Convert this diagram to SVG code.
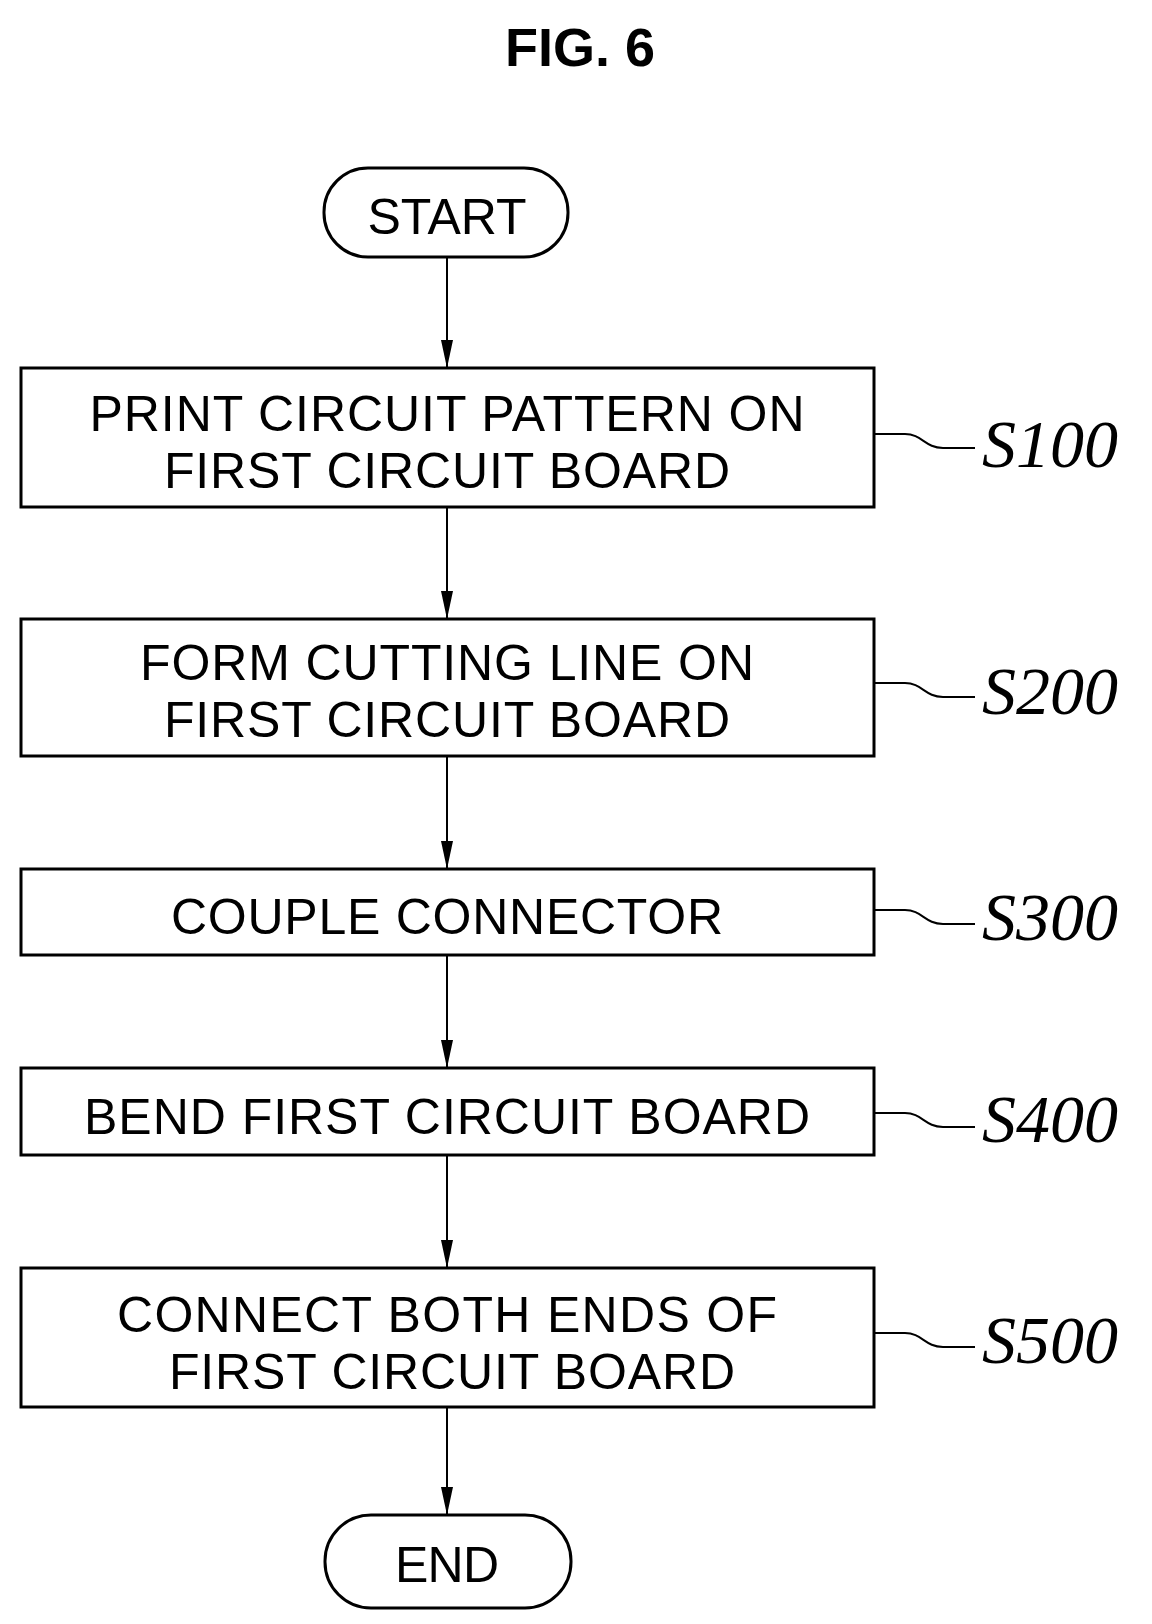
<svg xmlns="http://www.w3.org/2000/svg" width="1152" height="1624" viewBox="0 0 1152 1624">
<style>
.b{fill:#fff;stroke:#000;stroke-width:3}
.t{font-family:"Liberation Sans",Arial,sans-serif;font-size:50px;fill:#000;text-anchor:middle}
.s{font-family:"Liberation Serif","Times New Roman",serif;font-style:italic;font-size:68px;fill:#000}
</style>
<text x="580" y="66" font-family="Liberation Sans,Arial,sans-serif" font-weight="bold" font-size="54" text-anchor="middle">FIG. 6</text>
<g id="connectors" stroke="#000" stroke-width="2" fill="none">
<line x1="447" y1="257" x2="447" y2="367"/>
<line x1="447" y1="507" x2="447" y2="618"/>
<line x1="447" y1="756" x2="447" y2="868"/>
<line x1="447" y1="955" x2="447" y2="1067"/>
<line x1="447" y1="1155" x2="447" y2="1267"/>
<line x1="447" y1="1407" x2="447" y2="1514"/>
<g fill="#000" stroke="none">
<path d="M441,340 L453,340 L447,368 Z"/>
<path d="M441,591 L453,591 L447,619 Z"/>
<path d="M441,841 L453,841 L447,869 Z"/>
<path d="M441,1040 L453,1040 L447,1068 Z"/>
<path d="M441,1240 L453,1240 L447,1268 Z"/>
<path d="M441,1487 L453,1487 L447,1515 Z"/>
</g>
<path d="M874,434 H905 C922,434 925,448 943,448 H975"/>
<path d="M874,683 H905 C922,683 925,697 943,697 H975"/>
<path d="M874,910 H905 C922,910 925,924 943,924 H975"/>
<path d="M874,1113 H905 C922,1113 925,1127 943,1127 H975"/>
<path d="M874,1333 H905 C922,1333 925,1347 943,1347 H975"/>
</g>
<g id="start"><rect class="b" x="324" y="168" width="244" height="89" rx="44"/><text class="t" x="447" y="234" textLength="159" lengthAdjust="spacing">START</text></g>
<g id="s100"><rect class="b" x="21" y="368" width="853" height="139"/><text class="t" x="447" y="431" textLength="715" lengthAdjust="spacing">PRINT CIRCUIT PATTERN ON</text><text class="t" x="447" y="488" textLength="566" lengthAdjust="spacing">FIRST CIRCUIT BOARD</text><text class="s" x="982" y="467">S100</text></g>
<g id="s200"><rect class="b" x="21" y="619" width="853" height="137"/><text class="t" x="447" y="680" textLength="614" lengthAdjust="spacing">FORM CUTTING LINE ON</text><text class="t" x="447" y="737" textLength="566" lengthAdjust="spacing">FIRST CIRCUIT BOARD</text><text class="s" x="982" y="714">S200</text></g>
<g id="s300"><rect class="b" x="21" y="869" width="853" height="86"/><text class="t" x="447" y="934" textLength="552" lengthAdjust="spacing">COUPLE CONNECTOR</text><text class="s" x="982" y="940">S300</text></g>
<g id="s400"><rect class="b" x="21" y="1068" width="853" height="87"/><text class="t" x="447" y="1134" textLength="726" lengthAdjust="spacing">BEND FIRST CIRCUIT BOARD</text><text class="s" x="982" y="1142">S400</text></g>
<g id="s500"><rect class="b" x="21" y="1268" width="853" height="139"/><text class="t" x="447" y="1332" textLength="660" lengthAdjust="spacing">CONNECT BOTH ENDS OF</text><text class="t" x="452" y="1389" textLength="566" lengthAdjust="spacing">FIRST CIRCUIT BOARD</text><text class="s" x="982" y="1363">S500</text></g>
<g id="end"><rect class="b" x="325" y="1515" width="246" height="93" rx="46"/><text class="t" x="447" y="1582" textLength="104" lengthAdjust="spacing">END</text></g>
</svg>
